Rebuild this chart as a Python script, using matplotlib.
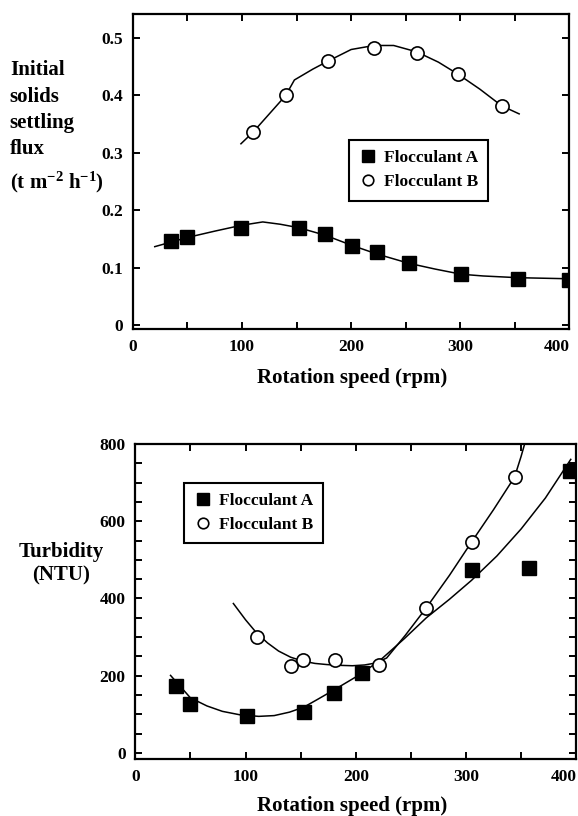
import numpy as np
import matplotlib
matplotlib.use('Agg')
import matplotlib.pyplot as plt
from matplotlib.ticker import MultipleLocator, FormatStrFormatter

plt.rcParams['font.family'] = ['Liberation Serif', 'DejaVu Serif']
plt.rcParams['font.weight'] = 'bold'
plt.rcParams['mathtext.fontset'] = 'custom'
plt.rcParams['mathtext.rm'] = 'Liberation Serif:bold'
plt.rcParams['mathtext.default'] = 'rm'

# --- top panel: initial solids settling flux ---
flux_a_rpm = [35, 50, 99, 152, 176, 201, 224, 253, 301, 353, 400]
flux_a_val = [0.146, 0.154, 0.170, 0.170, 0.159, 0.138, 0.127, 0.109, 0.089, 0.080, 0.079]
flux_b_rpm = [110, 140, 179, 221, 260, 298, 338]
flux_b_val = [0.336, 0.400, 0.460, 0.482, 0.474, 0.438, 0.382]
# fitted curves
flux_a_fit_rpm = [20, 50, 75, 99, 119, 135, 152, 176, 201, 224, 253, 277, 301, 321, 353, 403]
flux_a_fit_val = [0.137, 0.153, 0.164, 0.174, 0.180, 0.176, 0.170, 0.157, 0.139, 0.124, 0.108,
                  0.098, 0.089, 0.086, 0.083, 0.081]
flux_b_fit_rpm = [99, 110, 125, 140, 148, 165, 179, 200, 221, 239, 260, 280, 298, 318, 338, 354]
flux_b_fit_val = [0.316, 0.336, 0.368, 0.400, 0.427, 0.446, 0.460, 0.480, 0.487, 0.487, 0.476,
                  0.458, 0.437, 0.411, 0.382, 0.368]

# --- bottom panel: turbidity ---
turb_a_rpm = [37, 50, 101, 153, 180, 206, 305, 357, 394]
turb_a_val = [173, 128, 95, 106, 156, 207, 475, 479, 731]
turb_b_rpm = [110, 141, 152, 181, 221, 264, 305, 344]
turb_b_val = [301, 225, 240, 240, 227, 376, 546, 714]
turb_a_fit_rpm = [32, 50, 65, 79, 95, 112, 126, 140, 153, 166, 180, 193, 206, 224, 244,
                  264, 285, 305, 328, 350, 372, 395]
turb_a_fit_val = [201, 143, 122, 108, 99, 95, 97, 106, 119, 140, 163, 185, 207, 245, 296,
                  350, 398, 447, 510, 580, 660, 760]
turb_b_fit_rpm = [89, 100, 110, 120, 130, 141, 152, 163, 174, 186, 197, 208, 218, 228,
                  245, 264, 285, 305, 325, 344, 350, 353]
turb_b_fit_val = [387, 345, 311, 285, 264, 248, 238, 232, 229, 227, 226, 228, 233, 246,
                  305, 376, 460, 546, 630, 714, 768, 798]

rpm_ticks = [0, 100, 200, 300, 400]

fig = plt.figure(figsize=(5.78, 8.16), dpi=100)
ax1 = fig.add_axes([0.230, 0.597, 0.755, 0.386])
ax2 = fig.add_axes([0.234, 0.070, 0.763, 0.386])

lw = 1.1
leg_font = {'family': 'Liberation Serif', 'weight': 'bold', 'size': 12.5}
leg_kw = dict(prop=leg_font, fancybox=False, framealpha=1, edgecolor='k',
              handletextpad=0.4, borderpad=0.6, handlelength=1.0,
              markerscale=0.8, labelspacing=0.45)

# top
ax1.plot(flux_a_fit_rpm, flux_a_fit_val, 'k-', lw=lw)
ax1.plot(flux_b_fit_rpm, flux_b_fit_val, 'k-', lw=lw)
ax1.plot(flux_a_rpm, flux_a_val, 's', color='k', ms=10, ls='None', label='Flocculant A')
ax1.plot(flux_b_rpm, flux_b_val, 'o', mfc='white', mec='k', mew=1.2, ms=9.5, ls='None',
         label='Flocculant B')
ax1.set_xlim(0, 400)
ax1.set_ylim(-0.006, 0.542)
ax1.yaxis.set_major_locator(MultipleLocator(0.1))
ax1.yaxis.set_major_formatter(FormatStrFormatter('%g'))
leg1 = ax1.legend(loc='upper left', bbox_to_anchor=(0.475, 0.628), **leg_kw)
leg1.get_frame().set_linewidth(1.5)

# bottom
ax2.plot(turb_a_fit_rpm, turb_a_fit_val, 'k-', lw=lw)
ax2.plot(turb_b_fit_rpm, turb_b_fit_val, 'k-', lw=lw)
ax2.plot(turb_a_rpm, turb_a_val, 's', color='k', ms=10.5, ls='None', label='Flocculant A')
ax2.plot(turb_b_rpm, turb_b_val, 'o', mfc='white', mec='k', mew=1.2, ms=9.5, ls='None',
         label='Flocculant B')
ax2.set_xlim(0, 400)
ax2.set_ylim(-15, 800)
ax2.yaxis.set_major_locator(MultipleLocator(200))
ax2.yaxis.set_minor_locator(MultipleLocator(50))
leg2 = ax2.legend(loc='upper left', bbox_to_anchor=(0.091, 0.905), **leg_kw)
leg2.get_frame().set_linewidth(1.5)

for ax in (ax1, ax2):
    ax.set_xticks(rpm_ticks)
    ax.xaxis.set_minor_locator(MultipleLocator(50))
    for sp in ax.spines.values():
        sp.set_linewidth(1.6)
    ax.tick_params(which='both', direction='in', top=True, right=True,
                   width=1.4, length=5, labelsize=12.5, pad=7)
    for lab in ax.get_xticklabels() + ax.get_yticklabels():
        lab.set_fontweight('bold')
    # the last x label sits inside the right edge, as in the scan
    ax.get_xticklabels()[-1].set_horizontalalignment('right')

# axis titles
top_ylabel = ['Initial', 'solids', 'settling', 'flux', r'(t m$^{-2}$ h$^{-1}$)']
top_ylabel_y = [0.914, 0.881, 0.849, 0.817, 0.777]
for txt, yy in zip(top_ylabel, top_ylabel_y):
    fig.text(0.017, yy, txt, fontsize=15, fontweight='bold', ha='left', va='center')
fig.text(0.106, 0.323, 'Turbidity', fontsize=15, fontweight='bold', ha='center', va='center')
fig.text(0.106, 0.295, '(NTU)', fontsize=15, fontweight='bold', ha='center', va='center')
fig.text(0.61, 0.537, 'Rotation speed (rpm)', fontsize=15, fontweight='bold',
         ha='center', va='center')
fig.text(0.61, 0.012, 'Rotation speed (rpm)', fontsize=15, fontweight='bold',
         ha='center', va='center')

plt.savefig('out.png', dpi=100)
